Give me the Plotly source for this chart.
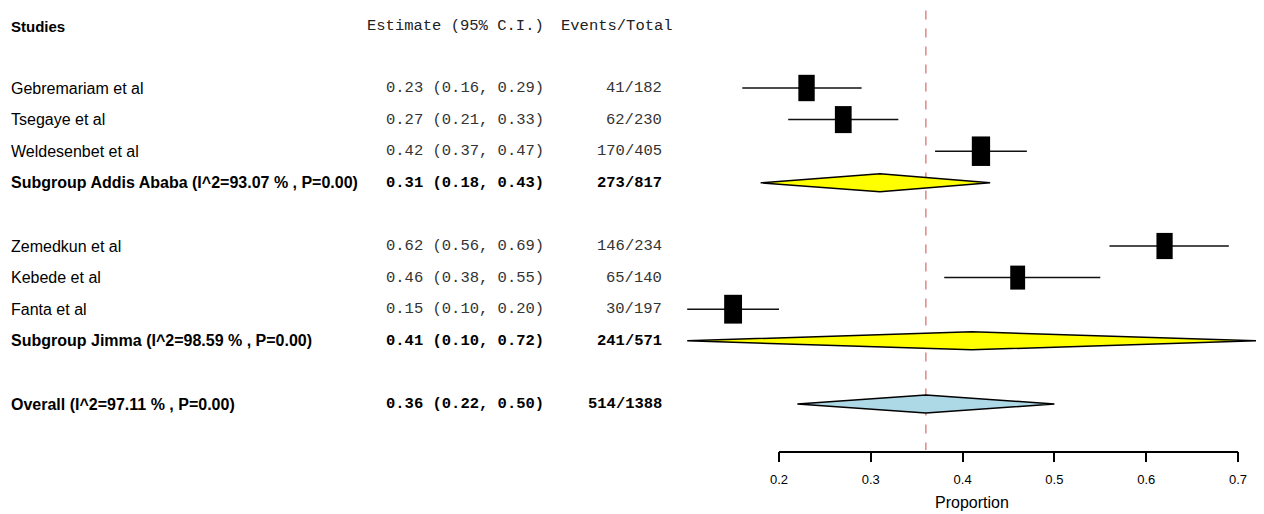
import plotly.graph_objects as go

# ---------------- data ----------------
studies = ["Gebremariam et al", "Tsegaye et al", "Weldesenbet et al",
           "Zemedkun et al", "Kebede et al", "Fanta et al"]
study_group = ["Addis Ababa", "Addis Ababa", "Addis Ababa", "Jimma", "Jimma", "Jimma"]
est = [0.23, 0.27, 0.42, 0.62, 0.46, 0.15]
ci_lo = [0.16, 0.21, 0.37, 0.56, 0.38, 0.10]
ci_hi = [0.29, 0.33, 0.47, 0.69, 0.55, 0.20]
events = [41, 62, 170, 146, 65, 30]
totals = [182, 230, 405, 234, 140, 197]

groups = ["Addis Ababa", "Jimma"]
group_est = [0.31, 0.41]
group_lo = [0.18, 0.10]
group_hi = [0.43, 0.72]
group_i2 = [93.07, 98.59]
group_p = [0.00, 0.00]

overall_est = 0.36
overall_lo = 0.22
overall_hi = 0.50
overall_i2 = 97.11
overall_p = 0.00

ref_value = 0.36
tick_vals = [0.2, 0.3, 0.4, 0.5, 0.6, 0.7]
tick_text = ["0.2", "0.3", "0.4", "0.5", "0.6", "0.7"]
x_title = "Proportion"

# ---------------- layout constants ----------------
W, H = 1264, 514
OFF = 8                  # page body margin compensation
row_px = 31.6
first_row_px = 88.0 - OFF
x_px_02 = 779.0 - OFF
px_per_unit = 918.0

def px_to_val(px):
    return 0.2 + (px - x_px_02) / px_per_unit

x_range = [px_to_val(0), px_to_val(W)]
y_range = [(H - first_row_px) / row_px, -first_row_px / row_px]

sans = "Liberation Sans, Arial"
mono = "Liberation Mono, Courier New, monospace"

col_study = (10 - OFF) / W
col_est_right = (545 - OFF) / W
col_ev_right = (663 - OFF) / W
col_ev_head_left = (560 - OFF) / W

fig = go.Figure()
annotations = []
shapes = []

def add_text(x, y, text, font, size, align, bold=False, color="#000000"):
    t = f"<b>{text}</b>" if bold else text
    annotations.append(dict(x=x, y=y, xref="paper", yref="y", text=t, showarrow=False,
                            xanchor=align, yanchor="middle", borderpad=0,
                            font=dict(family=font, size=size, color=color)))

header_row = -1.96
add_text(col_study, header_row, "Studies", sans, 15, "left", bold=True)
add_text(col_est_right, header_row, "Estimate (95% C.I.)", mono, 15.5, "right", color="#222222")
add_text(col_ev_head_left, header_row, "Events/Total", mono, 15.5, "left", color="#222222")

wts = [1.0 / ((e / n) * (1 - e / n) / n) for e, n in zip(events, totals)]
wmin, wmax = min(wts), max(wts)

row = 0
ci_x, ci_y = [], []
diamond_height = 9.0 / row_px
for g_i, g in enumerate(groups):
    idx = [i for i, sg in enumerate(study_group) if sg == g]
    for i in idx:
        add_text(col_study, row, studies[i], sans, 16, "left")
        add_text(col_est_right, row, f"{est[i]:.2f} ({ci_lo[i]:.2f}, {ci_hi[i]:.2f})", mono, 15.5, "right", color="#333333")
        add_text(col_ev_right, row, f"{events[i]}/{totals[i]}", mono, 15.5, "right", color="#333333")
        ci_x += [ci_lo[i], ci_hi[i], None]
        ci_y += [row, row, None]
        norm = (wts[i] - wmin) / (wmax - wmin)
        h = 24 + 5.5 * norm
        w = 0.62 * h
        shapes.append(dict(type="rect", xref="x", yref="y", xsizemode="pixel", ysizemode="pixel",
                           xanchor=est[i], yanchor=row, x0=-w / 2, x1=w / 2, y0=-h / 2, y1=h / 2,
                           fillcolor="#000000", line=dict(width=0), layer="above"))
        row += 1
    ev_sum = sum(events[i] for i in idx)
    tot_sum = sum(totals[i] for i in idx)
    add_text(col_study, row, f"Subgroup {g} (I^2={group_i2[g_i]:.2f} % , P={group_p[g_i]:.2f})", sans, 16, "left", bold=True)
    add_text(col_est_right, row, f"{group_est[g_i]:.2f} ({group_lo[g_i]:.2f}, {group_hi[g_i]:.2f})", mono, 15.5, "right", bold=True)
    add_text(col_ev_right, row, f"{ev_sum}/{tot_sum}", mono, 15.5, "right", bold=True)
    fig.add_trace(go.Scatter(
        x=[group_lo[g_i], group_est[g_i], group_hi[g_i], group_est[g_i], group_lo[g_i]],
        y=[row, row - diamond_height, row, row + diamond_height, row],
        mode="lines", fill="toself", fillcolor="#FFFF00",
        line=dict(color="#000000", width=1.5), hoverinfo="skip", showlegend=False))
    row += 2

overall_row = row
add_text(col_study, overall_row, f"Overall (I^2={overall_i2:.2f} % , P={overall_p:.2f})", sans, 16, "left", bold=True)
add_text(col_est_right, overall_row, f"{overall_est:.2f} ({overall_lo:.2f}, {overall_hi:.2f})", mono, 15.5, "right", bold=True)
add_text(col_ev_right, overall_row, f"{sum(events)}/{sum(totals)}", mono, 15.5, "right", bold=True)
fig.add_trace(go.Scatter(
    x=[overall_lo, overall_est, overall_hi, overall_est, overall_lo],
    y=[overall_row, overall_row - diamond_height, overall_row, overall_row + diamond_height, overall_row],
    mode="lines", fill="toself", fillcolor="#ADD8E6",
    line=dict(color="#000000", width=1.5), hoverinfo="skip", showlegend=False))

fig.add_trace(go.Scatter(x=ci_x, y=ci_y, mode="lines", line=dict(color="#111111", width=1.5),
                         hoverinfo="skip", showlegend=False))

axis_px = 451.5 - OFF
axis_row = (axis_px - first_row_px) / row_px
shapes.append(dict(type="line", xref="x", yref="y", x0=ref_value, x1=ref_value,
                   y0=-2.45, y1=axis_row - 0.05,
                   line=dict(color="#D46A6A", width=1.2, dash="dash"), layer="below"))

fig.add_trace(go.Scatter(x=[tick_vals[0], tick_vals[-1]], y=[axis_row, axis_row], xaxis="x2", yaxis="y",
                         mode="markers", marker=dict(opacity=0), hoverinfo="skip", showlegend=False))

# x-axis title centred on the whole plotting range of the forest
plot_lo = min(ci_lo + group_lo + [overall_lo])
plot_hi = max(ci_hi + group_hi + [overall_hi])
annotations.append(dict(x=(plot_lo + plot_hi) / 2, y=1 - (502 - OFF) / H, xref="x", yref="paper",
                        text=x_title, showarrow=False, xanchor="center", yanchor="middle",
                        font=dict(family=sans, size=16, color="#000000")))

fig.update_layout(
    width=W, height=H, autosize=False,
    margin=dict(l=0, r=0, t=0, b=0, pad=0, autoexpand=False),
    paper_bgcolor="white", plot_bgcolor="rgba(0,0,0,0)",
    xaxis=dict(range=x_range, domain=[0, 1], visible=False, fixedrange=True),
    yaxis=dict(range=y_range, domain=[0, 1], visible=False, fixedrange=True),
    xaxis2=dict(range=[tick_vals[0], tick_vals[-1]],
                domain=[x_px_02 / W, (x_px_02 + 0.5 * px_per_unit) / W],
                anchor="free", position=1 - axis_px / H,
                showline=True, linecolor="#000000", linewidth=1.5,
                ticks="outside", ticklen=10, tickwidth=1.5, tickcolor="#000000",
                tickvals=tick_vals, ticktext=tick_text, ticklabelstandoff=6,
                tickfont=dict(family=sans, size=13, color="#000000"),
                showgrid=False, zeroline=False, automargin=False, fixedrange=True),
    annotations=annotations,
    shapes=shapes,
)

fig.write_html("out.html")
